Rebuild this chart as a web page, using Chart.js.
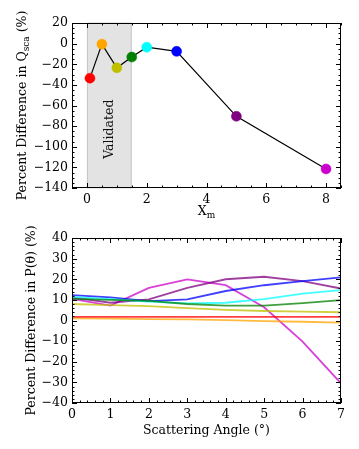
<!DOCTYPE html>
<html>
<head>
<meta charset="utf-8">
<title>Percent Difference</title>
<script src="https://cdn.jsdelivr.net/npm/chart.js@4.4.1/dist/chart.umd.min.js"></script>
<style>
  body { margin: 0; background: #fff; }
  .box { position: absolute; left: 0; width: 359px; }
  #top { top: 0; height: 222px; }
  #bottom { top: 222px; height: 227px; }
</style>
</head>
<body>
<div class="box" id="top"><canvas id="qsca"></canvas></div>
<div class="box" id="bottom"><canvas id="ptheta"></canvas></div>

<script>
// top panel: size parameter vs percent difference in Q_sca
var xm = [0.1, 0.5, 1, 1.5, 2, 3, 5, 8];
var qscaDiff = [-33.5, -0.5, -23.5, -13, -3.5, -7.5, -70.5, -121.5];
var sizeColors = ['#ff0000', '#ffa500', '#bfbf00', '#008000', '#00ffff', '#0000ff', '#800080', '#cc00cc'];
var topXTicks = [0, 2, 4, 6, 8];
var topYTicks = [-140, -120, -100, -80, -60, -40, -20, 0, 20];
var validated = [0, 1.5];

// bottom panel: scattering angle vs percent difference in P(theta), one line per X_m
var angles = [0, 1, 2, 3, 4, 5, 6, 7];
var pRed     = [1.8, 1.8, 1.8, 1.8, 1.8, 1.8, 1.8, 1.8];
var pOrange  = [1.0, 0.9, 0.7, 0.5, 0.2, -0.3, -0.6, -1.0];
var pOlive   = [8.0, 7.5, 7.0, 6.0, 5.2, 4.6, 4.3, 4.0];
var pGreen   = [10.5, 10.0, 9.5, 8.0, 7.2, 7.2, 8.4, 9.9];
var pCyan    = [11.5, 10.3, 9.2, 8.3, 8.6, 10.4, 13.0, 14.7];
var pBlue    = [12.3, 11.2, 9.4, 10.2, 14.3, 17.1, 19.1, 20.9];
var pPurple  = [11.2, 8.6, 10.2, 15.8, 20.0, 21.2, 19.1, 15.5];
var pMagenta = [10.5, 7.2, 15.8, 19.9, 17.1, 6.4, -10.2, -30.5];
var bottomXTicks = [0, 1, 2, 3, 4, 5, 6, 7];
var bottomYTicks = [-40, -30, -20, -10, 0, 10, 20, 30, 40];

var FONT = "'DejaVu Serif', 'Liberation Serif', serif";

// inward ticks on all four sides plus the frame
var framePlugin = {
  id: 'frame',
  afterDraw: function(chart, args, opts) {
    var ctx = chart.ctx, a = chart.chartArea;
    var xs = chart.scales.x, ys = chart.scales.y;
    ctx.save();
    ctx.strokeStyle = '#000';
    ctx.lineWidth = 1;
    ctx.strokeRect(a.left + 0.5, a.top + 0.5, a.right - a.left - 1, a.bottom - a.top - 1);
    ctx.beginPath();
    function vTick(v, len) {
      var p = Math.round(xs.getPixelForValue(v)) + 0.5;
      ctx.moveTo(p, a.bottom); ctx.lineTo(p, a.bottom - len);
      ctx.moveTo(p, a.top); ctx.lineTo(p, a.top + len);
    }
    function hTick(v, len) {
      var p = Math.round(ys.getPixelForValue(v)) + 0.5;
      ctx.moveTo(a.left, p); ctx.lineTo(a.left + len, p);
      ctx.moveTo(a.right, p); ctx.lineTo(a.right - len, p);
    }
    var i, v;
    var n = Math.round((xs.max - xs.min) / opts.xMinor);
    for (i = 0; i <= n; i++) {
      v = xs.min + i * opts.xMinor;
      vTick(v, opts.xMajor.some(function(t) { return Math.abs(t - v) < 1e-6; }) ? 5 : 2.5);
    }
    n = Math.round((ys.max - ys.min) / opts.yMinor);
    for (i = 0; i <= n; i++) {
      v = ys.min + i * opts.yMinor;
      hTick(v, opts.yMajor.some(function(t) { return Math.abs(t - v) < 1e-6; }) ? 5 : 2.5);
    }
    ctx.stroke();
    ctx.restore();
  }
};

// axis titles, with a smaller lowered part for subscripts
function drawParts(ctx, parts, cx, cy, rotate) {
  ctx.save();
  ctx.translate(cx, cy);
  if (rotate) ctx.rotate(-Math.PI / 2);
  ctx.fillStyle = '#000';
  ctx.textBaseline = 'middle';
  ctx.textAlign = 'left';
  var total = 0;
  parts.forEach(function(p) {
    ctx.font = (p.sub ? 9 : 12.5) + 'px ' + FONT;
    total += ctx.measureText(p.t).width;
  });
  var x = -total / 2;
  parts.forEach(function(p) {
    ctx.font = (p.sub ? 9 : 12.5) + 'px ' + FONT;
    ctx.fillText(p.t, x, p.sub ? 3.5 : 0);
    x += ctx.measureText(p.t).width;
  });
  ctx.restore();
}

var titlePlugin = {
  id: 'titles',
  afterDraw: function(chart, args, opts) {
    var a = chart.chartArea;
    drawParts(chart.ctx, opts.y, opts.yPos, (a.top + a.bottom) / 2, true);
    drawParts(chart.ctx, opts.x, (a.left + a.right) / 2, opts.xPos, false);
  }
};

// grey "Validated" band
var bandPlugin = {
  id: 'band',
  beforeDatasetsDraw: function(chart, args, opts) {
    if (!opts.range) return;
    var ctx = chart.ctx, a = chart.chartArea, xs = chart.scales.x;
    var x0 = xs.getPixelForValue(opts.range[0]);
    var x1 = xs.getPixelForValue(opts.range[1]);
    ctx.save();
    ctx.fillStyle = 'rgba(200, 200, 200, 0.5)';
    ctx.fillRect(x0, a.top, x1 - x0, a.bottom - a.top);
    ctx.strokeStyle = 'rgba(170, 170, 170, 0.5)';
    ctx.strokeRect(x0 + 0.5, a.top, x1 - x0 - 1, a.bottom - a.top);
    ctx.translate((x0 + x1) / 2, chart.scales.y.getPixelForValue(opts.labelY));
    ctx.rotate(-Math.PI / 2);
    ctx.fillStyle = '#111';
    ctx.font = '12.5px ' + FONT;
    ctx.textAlign = 'center';
    ctx.textBaseline = 'middle';
    ctx.fillText(opts.label, 0, 0);
    ctx.restore();
  }
};

function axis(min, max, ticks, fixed) {
  return {
    type: 'linear',
    min: min,
    max: max,
    grid: { display: false, drawTicks: false, tickLength: 0 },
    border: { display: false },
    afterBuildTicks: function(scale) {
      scale.ticks = ticks.map(function(v) { return { value: v }; });
    },
    afterFit: function(scale) {
      if (fixed.width) scale.width = fixed.width;
      if (fixed.height) scale.height = fixed.height;
    },
    ticks: {
      color: '#000',
      padding: 4,
      autoSkip: false,
      maxRotation: 0,
      font: { family: FONT, size: 12.5 },
      callback: function(v) { return v < 0 ? '\u2212' + Math.abs(v) : '' + v; }
    }
  };
}

var common = {
  responsive: true,
  maintainAspectRatio: false,
  animation: false,
  events: []
};

new Chart(document.getElementById('qsca'), {
  type: 'line',
  data: {
    datasets: [{
      data: xm.map(function(x, i) { return { x: x, y: qscaDiff[i] }; }),
      borderColor: '#000',
      borderWidth: 1.2,
      pointRadius: 5,
      pointBackgroundColor: sizeColors,
      pointBorderColor: sizeColors,
      pointBorderWidth: 0.5,
      tension: 0
    }]
  },
  options: Object.assign({}, common, {
    layout: { padding: { left: 0, top: 23, right: 18, bottom: 0 } },
    scales: {
      x: axis(-0.5, 8.5, topXTicks, { height: 34 }),
      y: axis(-140, 20, topYTicks, { width: 72 })
    },
    plugins: {
      legend: { display: false },
      tooltip: { enabled: false },
      band: { range: validated, label: 'Validated', labelY: -83 },
      frame: { xMinor: 0.5, yMinor: 5, xMajor: topXTicks, yMajor: topYTicks },
      titles: {
        y: [{ t: 'Percent Difference in Q' }, { t: 'sca', sub: true }, { t: ' (%)' }],
        yPos: 23,
        x: [{ t: 'X' }, { t: 'm', sub: true }],
        xPos: 212
      }
    }
  }),
  plugins: [bandPlugin, framePlugin, titlePlugin]
});

var pSeries = [pRed, pOrange, pOlive, pGreen, pCyan, pBlue, pPurple, pMagenta];

new Chart(document.getElementById('ptheta'), {
  type: 'line',
  data: {
    datasets: pSeries.map(function(s, k) {
      return {
        data: angles.map(function(x, i) { return { x: x, y: s[i] }; }),
        borderColor: sizeColors[k] + 'c0',
        borderWidth: 1.8,
        pointRadius: 0,
        tension: 0
      };
    })
  },
  options: Object.assign({}, common, {
    layout: { padding: { left: 0, top: 16, right: 18, bottom: 0 } },
    scales: {
      x: axis(0, 7, bottomXTicks, { height: 46 }),
      y: axis(-40, 40, bottomYTicks, { width: 72 })
    },
    plugins: {
      legend: { display: false },
      tooltip: { enabled: false },
      frame: { xMinor: 0.2, yMinor: 2, xMajor: bottomXTicks, yMajor: bottomYTicks },
      titles: {
        y: [{ t: 'Percent Difference in P(\u03b8) (%)' }],
        yPos: 32,
        x: [{ t: 'Scattering Angle (\u00b0)' }],
        xPos: 209
      }
    }
  }),
  plugins: [framePlugin, titlePlugin]
});
</script>
</body>
</html>
